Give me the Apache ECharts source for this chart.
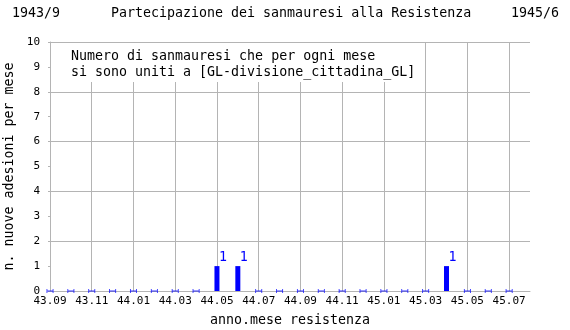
<!DOCTYPE html>
<html>
<head>
<meta charset="utf-8">
<script src="https://cdn.jsdelivr.net/npm/echarts@6/dist/echarts.min.js"></script>
<style>html,body{margin:0;padding:0;background:#fff}#c{width:570px;height:330px}</style>
</head>
<body>
<div id="c"></div>
<script>
const categories = ['43.09','43.10','43.11','43.12','44.01','44.02','44.03','44.04','44.05','44.06','44.07','44.08','44.09','44.10','44.11','44.12','45.01','45.02','45.03','45.04','45.05','45.06','45.07','45.08'];
const adesioni = [0,0,0,0,0,0,0,0,1,1,0,0,0,0,0,0,0,0,0,1,0,0,0,null];
const yTicks = [0,1,2,3,4,5,6,7,8,9,10];
const titleText = 'Partecipazione dei sanmauresi alla Resistenza';
const startText = '1943/9';
const endText = '1945/6';
const boxLines = ['Numero di sanmauresi che per ogni mese', 'si sono uniti a [GL-divisione_cittadina_GL]'];

const FONT = 'DejaVu Sans Mono';
const BIG = 13.3;
const SMALL = 11;
const GRID = '#b4b4b4';
const BLUE = '#0000ff';

const barData = adesioni.map(v => (v && v > 0) ? v : '-');
const zeroData = adesioni.map(v => v === 0 ? 0 : '-');

const chart = echarts.init(document.getElementById('c'), null, {renderer: 'canvas'});
chart.setOption({
  animation: false,
  backgroundColor: '#fff',
  textStyle: {fontFamily: FONT},
  grid: {left: 50, right: 40, top: 42, bottom: 39, containLabel: false, outerBoundsMode: 'none'},
  xAxis: {
    type: 'category', data: categories, boundaryGap: false,
    name: 'anno.mese resistenza', nameLocation: 'middle', nameGap: 23,
    nameTextStyle: {fontFamily: FONT, fontSize: BIG, color: '#000'},
    axisLine: {lineStyle: {color: GRID}},
    axisTick: {show: false},
    axisLabel: {interval: 1, margin: 5, fontFamily: FONT, fontSize: SMALL, color: '#000'},
    splitLine: {show: true, interval: 1, lineStyle: {color: GRID, width: 1}}
  },
  yAxis: [{
    type: 'value', min: yTicks[0], max: yTicks[yTicks.length-1], interval: 1,
    name: 'n. nuove adesioni per mese', nameLocation: 'middle', nameGap: 34,
    nameTextStyle: {fontFamily: FONT, fontSize: BIG, color: '#000'},
    axisLine: {show: true, lineStyle: {color: GRID}},
    axisTick: {show: true, length: 2, lineStyle: {color: GRID}},
    axisLabel: {margin: 10, fontFamily: FONT, fontSize: SMALL, color: '#000'},
    splitLine: {show: false}
  }, {
    type: 'value', min: 0, max: 10, interval: 2, position: 'left',
    axisLine: {show: false}, axisTick: {show: false}, axisLabel: {show: false},
    splitLine: {show: true, lineStyle: {color: GRID, width: 1}}
  }],
  graphic: [
    {type: 'text', left: 12, top: 7, style: {text: startText, font: BIG + 'px ' + FONT, fill: '#000'}},
    {type: 'text', left: 111, top: 7, style: {text: titleText, font: BIG + 'px ' + FONT, fill: '#000'}},
    {type: 'text', left: 511, top: 7, style: {text: endText, font: BIG + 'px ' + FONT, fill: '#000'}},
    {type: 'rect', z: 50, shape: {x: 51, y: 43, width: 373, height: 39}, style: {fill: '#fff'}},
    {type: 'text', z: 51, x: 71, y: 50, style: {text: boxLines[0], font: BIG + 'px ' + FONT, fill: '#000'}},
    {type: 'text', z: 51, x: 71, y: 66, style: {text: boxLines[1], font: BIG + 'px ' + FONT, fill: '#000'}}
  ],
  series: [{
    type: 'bar', data: barData, barWidth: 5,
    itemStyle: {color: BLUE},
    label: {show: true, position: 'top', offset: [6, 3], color: BLUE, fontFamily: FONT, fontSize: BIG}
  }, {
    type: 'scatter', data: zeroData,
    symbol: 'path://M0,0h1v5h-1z M1,2h6v1h-6z M7,0h1v5h-1z', symbolSize: [7, 4],
    itemStyle: {color: BLUE}
  }]
});
</script>
</body>
</html>
